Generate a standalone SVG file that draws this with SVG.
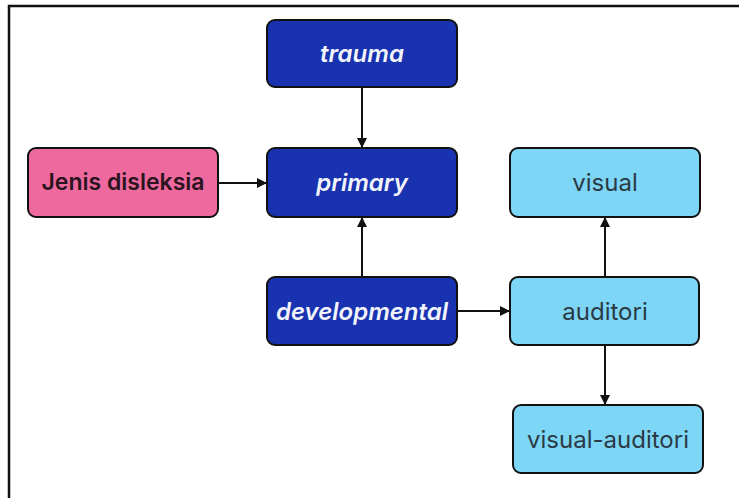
<svg xmlns="http://www.w3.org/2000/svg" width="739" height="498" viewBox="0 0 739 498">
<defs>
<style>
.box{stroke:#111;stroke-width:2}
.dark{fill:#1832B0}
.pink{fill:#EE6A9E}
.light{fill:#7DD6F5}
text{font-family:Inter,"Liberation Sans",sans-serif;font-size:24px;text-anchor:middle;dominant-baseline:central}
.wt{fill:#F2F4FA;font-style:italic;font-weight:600}
.pt{fill:#2A1420;font-weight:600;font-size:23px}
.lt{fill:#2B3A45;font-size:24px}
.edge{stroke:#111;stroke-width:2;fill:none;marker-end:url(#ah)}
</style>
<marker id="ah" viewBox="0 0 10 10" refX="9" refY="5" markerWidth="5" markerHeight="5" orient="auto">
<path d="M0,0 L10,5 L0,10 z" fill="#111"/>
</marker>
</defs>
<rect width="739" height="498" fill="#fff"/>
<path d="M9,498 V6 H739" stroke="#111" stroke-width="2.5" fill="none"/>
<g id="connectors">
<line class="edge" x1="362" y1="87" x2="362" y2="147"/>
<line class="edge" x1="362" y1="277" x2="362" y2="218"/>
<line class="edge" x1="218" y1="183" x2="266" y2="183"/>
<line class="edge" x1="457" y1="311" x2="509" y2="311"/>
<line class="edge" x1="605" y1="277" x2="605" y2="218"/>
<line class="edge" x1="605" y1="345" x2="605" y2="404"/>
</g>
<g id="trauma"><rect class="box dark" x="267" y="20" width="190" height="67" rx="8"/><text class="wt" x="362" y="53">trauma</text></g>
<g id="primary"><rect class="box dark" x="267" y="148" width="190" height="69" rx="8"/><text class="wt" x="362" y="182">primary</text></g>
<g id="jenis"><rect class="box pink" x="28" y="148" width="190" height="69" rx="8"/><text class="pt" x="123" y="182">Jenis disleksia</text></g>
<g id="developmental"><rect class="box dark" x="267" y="277" width="190" height="68" rx="8"/><text class="wt" x="362" y="311">developmental</text></g>
<g id="visual"><rect class="box light" x="510" y="148" width="190" height="69" rx="8"/><text class="lt" x="605" y="182">visual</text></g>
<g id="auditori"><rect class="box light" x="510" y="277" width="189" height="68" rx="8"/><text class="lt" x="605" y="311">auditori</text></g>
<g id="visual-auditori"><rect class="box light" x="513" y="405" width="190" height="68" rx="8"/><text class="lt" x="608" y="439">visual-auditori</text></g>
</svg>
